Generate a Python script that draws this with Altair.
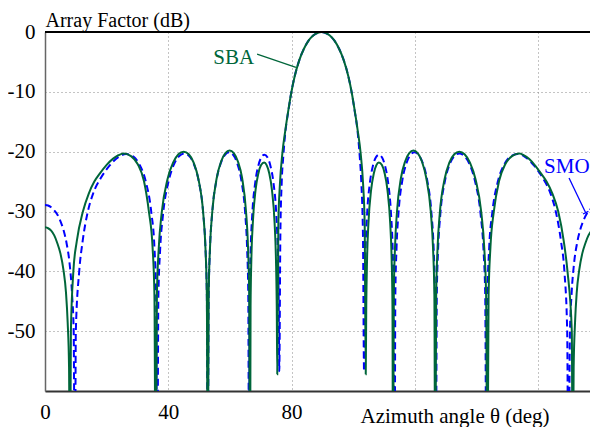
import altair as alt
import pandas as pd

# ---------------- data ----------------
# SBA (solid green)
sba_theta = [0, 1, 2, 3, 4, 5, 6, 6.8, 7.35, 7.8, 8.1,
             8.4, 9.2, 10.3, 12.3, 14.2, 16.0, 18.0, 20.0, 22.0, 23.8, 25.5, 27.9, 30.1, 32.1, 33.7, 34.9, 35.5, 35.9,
             36.3, 36.9, 37.86, 39.74, 41.55, 43.29, 44.98, 46.63, 48.23, 49.78, 51.31, 52.05, 52.5, 52.8,
             53.1, 53.54, 54.27, 55.71, 57.12, 58.52, 59.89, 61.24, 62.58, 63.94, 65.21, 65.86, 66.24, 66.5,
             66.69, 66.95, 67.41, 68.31, 69.21, 70.1, 71.1, 71.9, 72.76, 73.62, 74.49, 74.92, 75.18, 75.35,
             75.7, 76.2, 77.0, 78.0, 79.0, 79.8, 81.0, 82.5, 84.0, 85.5, 87.0, 88.5, 89.7,
             90.9, 92.4, 93.9, 95.4, 96.9, 98.4, 99.6, 100.4, 101.4, 102.4, 103.2, 103.7, 104.05,
             104.22, 104.48, 104.92, 105.79, 106.66, 107.5, 108.3, 109.3, 110.19, 111.09, 111.99, 112.45, 112.72, 112.9,
             113.16, 113.55, 114.19, 115.47, 116.82, 118.16, 119.51, 120.89, 122.28, 123.69, 125.14, 125.86, 126.31, 126.6,
             126.9, 127.35, 128.09, 129.62, 131.17, 132.78, 134.42, 136.11, 137.86, 139.66, 141.54, 142.5, 143.1, 143.5,
             143.9, 144.5, 145.6, 147.3, 149.3, 151.5, 153.9, 155.4, 157.0, 158.8, 160.7, 162.7, 164.6, 166.5, 168.3, 169.5, 170.9, 171.2,
             171.5, 171.95, 172.5, 173.3, 174.3, 175.3, 176.3, 177.3, 178.3, 179.4]
sba_db = [-32.65, -32.8, -33.2, -34.0, -35.3, -37.0, -39.8, -43.5, -48.5, -56, -80,
          -50, -40, -35, -30, -27, -25, -23.5, -22.2, -21.2, -20.6, -20.3, -20.74, -22.1, -24.9, -30, -36, -44, -80,
          -44.0, -36.1, -30.2, -24.6, -21.84, -20.44, -20.0, -20.44, -21.84, -24.6, -30.2, -36.1, -44.0, -80,
          -43.8, -35.9, -30.0, -24.4, -21.64, -20.24, -19.8, -20.24, -21.64, -24.4, -30.0, -35.9, -43.8, -80,
          -45.8, -37.9, -32.0, -26.4, -23.64, -22.24, -21.8, -22.24, -23.64, -26.4, -32.0, -37.9, -45.8, -57.2,
          -32, -25.5, -20.3, -16.3, -12.9, -10.4, -7.4, -4.7, -2.8, -1.45, -0.6, -0.13, 0,
          -0.13, -0.6, -1.45, -2.8, -4.7, -7.4, -10.4, -12.9, -16.3, -20.3, -25.5, -32, -57.2,
          -45.8, -37.9, -32.0, -26.4, -23.64, -22.24, -21.8, -22.24, -23.64, -26.4, -32.0, -37.9, -45.8, -80,
          -43.8, -35.9, -30.0, -24.4, -21.64, -20.24, -19.8, -20.24, -21.64, -24.4, -30.0, -35.9, -43.8, -80,
          -44.0, -36.1, -30.2, -24.6, -21.84, -20.44, -20.0, -20.44, -21.84, -24.6, -30.2, -36.1, -44.0, -80,
          -44, -36, -30, -24.9, -22.1, -20.74, -20.3, -20.6, -21.2, -22.2, -23.5, -25, -27, -30, -35, -40, -50, -80,
          -56, -48.5, -43.5, -39.8, -37.0, -35.3, -34.0, -33.2, -32.8, -32.65]

# SMO (dashed blue)
smo_theta = [0, 1, 2, 3, 4, 5, 6, 7, 8, 8.8, 9.3, 9.7,
             10.0, 11.1, 12.2, 13.9, 15.6, 18.0, 21.0, 23.8, 26.3, 28.6, 30.7, 32.7, 34.5, 35.5, 36.05, 36.4,
             36.78, 37.35, 38.29, 40.11, 41.84, 43.55, 45.19, 46.79, 48.35, 49.86, 51.36, 52.08, 52.51, 52.8,
             53.09, 53.52, 54.23, 55.64, 57.02, 58.39, 59.73, 61.06, 62.36, 63.66, 64.94, 65.57, 65.95, 66.2,
             66.4, 66.71, 67.21, 68.22, 69.21, 70.19, 71.18, 72.15, 73.12, 74.09, 75.05, 75.52, 75.81, 76.0,
             76.35, 76.8, 77.3, 78.0, 79.0, 79.8, 81.0, 82.5, 84.0, 85.5, 87.0, 88.5, 89.7,
             90.9, 92.4, 93.9, 95.4, 96.9, 98.4, 99.6, 100.4, 101.4, 102.1, 102.6, 103.15, 103.5,
             103.69, 103.98, 104.46, 105.42, 106.38, 107.36, 108.33, 109.31, 110.3, 111.29, 112.29, 112.8, 113.1, 113.4,
             113.65, 114.03, 114.67, 115.95, 117.25, 118.55, 119.87, 121.21, 122.58, 123.96, 125.37, 126.08, 126.51, 126.8,
             127.09, 127.52, 128.24, 129.74, 131.25, 132.81, 134.41, 136.05, 137.76, 139.49, 141.32, 142.25, 142.82, 143.2,
             143.55, 144.1, 145.1, 146.9, 148.9, 151.0, 153.3, 155.8, 158.6, 161.6, 164.0, 165.7, 167.4, 168.5, 169.4, 169.8,
             170.3, 170.8, 171.6, 172.6, 173.6, 174.6, 175.6, 176.6, 177.6, 178.6, 179.4]
smo_db = [-28.9, -29.0, -29.3, -29.8, -30.5, -31.6, -33.1, -35.3, -38.8, -44, -50, -80,
          -50, -40, -35, -30, -27, -24.5, -22.3, -20.9, -20.4, -20.8, -22.2, -25.0, -30.2, -36, -44, -80,
          -44.3, -36.4, -30.5, -24.9, -22.14, -20.74, -20.3, -20.74, -22.14, -24.9, -30.5, -36.4, -44.3, -80,
          -44.1, -36.2, -30.3, -24.7, -21.94, -20.54, -20.1, -20.54, -21.94, -24.7, -30.3, -36.2, -44.1, -80,
          -44.5, -36.6, -30.7, -25.1, -22.34, -20.94, -20.5, -20.94, -22.34, -25.1, -30.7, -36.6, -44.5, -56.7,
          -34, -25, -20.8, -16.6, -13.0, -10.4, -7.4, -4.7, -2.8, -1.45, -0.6, -0.13, 0,
          -0.13, -0.6, -1.45, -2.8, -4.7, -7.4, -10.4, -13.0, -16.6, -20.8, -25, -34, -56.7,
          -44.5, -36.6, -30.7, -25.1, -22.34, -20.94, -20.5, -20.94, -22.34, -25.1, -30.7, -36.6, -44.5, -80,
          -44.1, -36.2, -30.3, -24.7, -21.94, -20.54, -20.1, -20.54, -21.94, -24.7, -30.3, -36.2, -44.1, -80,
          -44.3, -36.4, -30.5, -24.9, -22.14, -20.74, -20.3, -20.74, -22.14, -24.9, -30.5, -36.4, -44.3, -80,
          -44, -36, -30.2, -25.0, -22.2, -20.8, -20.4, -20.9, -22.3, -24.5, -27, -30, -35, -40, -50, -80,
          -50, -44, -38.8, -35.3, -33.1, -31.6, -30.5, -29.8, -29.3, -29.0, -28.95]

x_ticks = [0, 40, 80, 120, 160]
y_ticks = [-60, -50, -40, -30, -20, -10, 0]

# annotations (label text and leader lines, in data units)
sba_label = {"theta": [61.2], "db": [-4.35], "txt": ["SBA"]}
sba_leader = {"theta": [68.8], "db": [-3.68], "theta2": [81.4], "db2": [-5.93]}
smo_label = {"theta": [169.3], "db": [-22.56], "txt": ["SMO"]}
smo_leader = {"theta": [170.0, 174.54], "db": [-24.4, -30.42],
              "theta2": [175.4, 176.28], "db2": [-30.2, -29.98]}

# ---------------- chart ----------------
FONT = "Liberation Serif"
GREEN = "#00663a"
BLUE = "#0000ff"

sba_df = pd.DataFrame({"theta": sba_theta, "db": sba_db})
smo_df = pd.DataFrame({"theta": smo_theta, "db": smo_db})

xscale = alt.Scale(domain=[0, 176.8], nice=False, zero=False)
yscale = alt.Scale(domain=[-60, 0], nice=False, zero=False)

x_axis = alt.Axis(
    values=x_ticks,
    labelExpr="datum.value <= 80 ? '' + datum.value : ''",
    grid=True, gridDash=[1, 3], gridColor="#888888", gridWidth=1,
    ticks=False, tickSize=0,
    domainColor="#333333", domainWidth=2,
    labelFont=FONT, labelFontSize=21, labelColor="black",
    labelBaseline="alphabetic", labelPadding=27,
    labelFlush=False, labelOverlap=False,
    title="Azimuth angle θ (deg)", titleFont=FONT, titleFontSize=21,
    titleFontWeight="normal", titleColor="black",
    titleX=315, titleY=31, titleAlign="left", titleBaseline="alphabetic",
)
y_axis = alt.Axis(
    values=y_ticks,
    labelExpr="datum.value > -60 ? '' + datum.value : ''",
    grid=True, gridDash=[1, 3], gridColor="#888888", gridWidth=1,
    ticks=False, tickSize=0,
    domainColor="#666666", domainWidth=1.5,
    labelFont=FONT, labelFontSize=21, labelColor="black",
    labelPadding=10, labelFlush=False, labelOverlap=False,
    title="Array Factor (dB)", titleFont=FONT, titleFontSize=20,
    titleFontWeight="normal", titleColor="black", titleAngle=0,
    titleX=0, titleY=-6, titleAlign="left", titleBaseline="alphabetic",
)

X = alt.X("theta:Q", scale=xscale, axis=x_axis)
Y = alt.Y("db:Q", scale=yscale, axis=y_axis)

smo_line = alt.Chart(smo_df).mark_line(
    clip=True, interpolate="monotone", color=BLUE, strokeWidth=2, strokeDash=[7, 4]
).encode(x=X, y=Y)

sba_line = alt.Chart(sba_df).mark_line(
    clip=True, interpolate="monotone", color=GREEN, strokeWidth=2
).encode(x=X, y=Y)

top_line = alt.Chart(sba_df).mark_rule(color="black", strokeWidth=1.2).encode(
    y=alt.Y(datum=0, scale=yscale, axis=y_axis)
)

sba_lead = alt.Chart(pd.DataFrame(sba_leader)).mark_rule(color=GREEN, strokeWidth=1.3).encode(
    x=X, y=Y, x2="theta2:Q", y2="db2:Q")
sba_txt = alt.Chart(pd.DataFrame(sba_label)).mark_text(
    font=FONT, fontSize=21, color=GREEN, baseline="middle", align="center"
).encode(x=X, y=Y, text="txt:N")

smo_lead = alt.Chart(pd.DataFrame(smo_leader)).mark_rule(color=BLUE, strokeWidth=1.3).encode(
    x=X, y=Y, x2="theta2:Q", y2="db2:Q")
smo_txt = alt.Chart(pd.DataFrame(smo_label)).mark_text(
    font=FONT, fontSize=21, color=BLUE, baseline="middle", align="center"
).encode(x=X, y=Y, text="txt:N")

chart = alt.layer(
    smo_line, sba_line, top_line, sba_lead, sba_txt, smo_lead, smo_txt
).properties(
    width=545, height=359,
    padding={"left": 37, "top": 24, "right": 0, "bottom": 36},
    autosize=alt.AutoSizeParams(type="none"),
    background="white",
).configure_view(stroke=None)

chart.save("out.html", embed_options={"renderer": "svg", "actions": False})
